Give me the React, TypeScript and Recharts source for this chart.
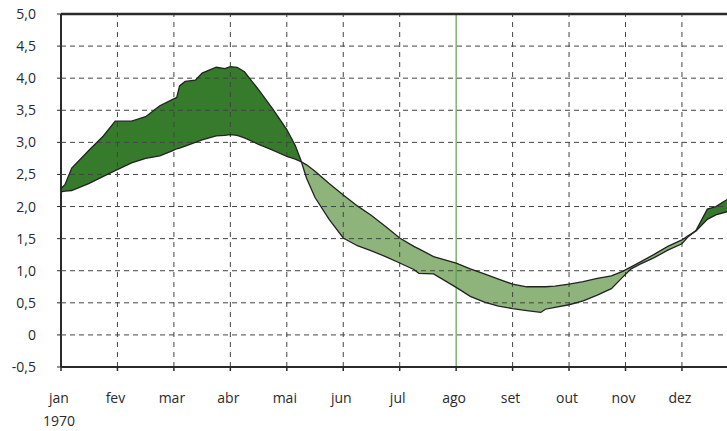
import React from "react";
import {
  ComposedChart,
  Area,
  Line,
  XAxis,
  YAxis,
  ReferenceLine,
} from "recharts";

const monthLabels = ["jan", "fev", "mar", "abr", "mai", "jun", "jul", "ago", "set", "out", "nov", "dez"];
const monthTicks = [0, 1, 2, 3, 4, 5, 6, 7, 8, 9, 10, 11];
const yTicks = [-0.5, 0, 0.5, 1, 1.5, 2, 2.5, 3, 3.5, 4, 4.5, 5];
const yearLabel = "1970";
const markedMonth = 7;

// position in months from 1 jan
const positions = [
  0, 0.07, 0.19, 0.5, 0.75, 0.96, 1.25, 1.5, 1.75, 1.98, 2.05, 2.1, 2.2, 2.38, 2.5,
  2.75, 2.9, 3.0, 3.12, 3.25, 3.5, 3.75, 4.0, 4.15, 4.25, 4.35, 4.5, 4.75, 5.0, 5.25,
  5.5, 5.75, 6.0, 6.25, 6.34, 6.6, 7.0, 7.25, 7.5, 7.75, 8.0, 8.25, 8.5, 8.58, 8.75,
  9.0, 9.25, 9.5, 9.75, 9.95, 10.1, 10.25, 10.5, 10.75, 11.0, 11.1, 11.25, 11.45,
  11.6, 11.8, 12,
];

const smoothVals = [
  2.23, 2.24, 2.25, 2.36, 2.47, 2.56, 2.68, 2.75, 2.79, 2.87, 2.9, 2.91, 2.94, 3.0, 3.04,
  3.1, 3.11, 3.12, 3.11, 3.07, 2.97, 2.88, 2.78, 2.74, 2.7, 2.65, 2.55, 2.36, 2.18, 2.01,
  1.86, 1.69, 1.51, 1.38, 1.34, 1.22, 1.12, 1.03, 0.95, 0.87, 0.79, 0.75, 0.75, 0.75, 0.76,
  0.79, 0.83, 0.88, 0.92, 0.99, 1.06, 1.13, 1.25, 1.38, 1.48, 1.54, 1.62, 1.8,
  1.87, 1.92, 1.97,
];

const jaggedVals = [
  2.28, 2.34, 2.6, 2.88, 3.1, 3.33, 3.33, 3.4, 3.57, 3.67, 3.7, 3.88, 3.95, 3.97, 4.08,
  4.17, 4.15, 4.18, 4.17, 4.1, 3.82, 3.52, 3.2, 2.95, 2.72, 2.44, 2.14, 1.8, 1.51, 1.39,
  1.31, 1.22, 1.12, 1.02, 0.96, 0.95, 0.74, 0.6, 0.51, 0.45, 0.41, 0.38, 0.35, 0.4, 0.43,
  0.47, 0.53, 0.62, 0.72, 0.9, 1.03, 1.1, 1.2, 1.32, 1.42, 1.52, 1.63, 1.96,
  2.0, 2.11, 2.18,
];

const DARK = "#367a2b";
const LIGHT = "#8eb47c";
const INK = "#2a2a2a";
const GRID = "#444";
const FONT = "'Open Sans', sans-serif";

function row(m: number, s: number, j: number) {
  return {
    m,
    smooth: s,
    jagged: j,
    up: [s, Math.max(s, j)],
    down: [Math.min(s, j), s],
  };
}

// table for the chart, with the crossing points added so the two fills meet cleanly
const data: any[] = [];
positions.forEach((m, i) => {
  data.push(row(m, smoothVals[i], jaggedVals[i]));
  if (i < positions.length - 1) {
    const d0 = jaggedVals[i] - smoothVals[i];
    const d1 = jaggedVals[i + 1] - smoothVals[i + 1];
    if (d0 * d1 < 0) {
      const t = d0 / (d0 - d1);
      const xm = m + t * (positions[i + 1] - m);
      const v = smoothVals[i] + t * (smoothVals[i + 1] - smoothVals[i]);
      data.push(row(xm, v, v));
    }
  }
});

const fmtY = (v: number) => (v === 0 ? "0" : v.toFixed(1).replace(".", ","));

const MonthTick = (props: any) => {
  const { x, y, payload } = props;
  return (
    <g>
      <text x={x - 2} y={y} dy={9} textAnchor="middle" fill={INK} fontSize={14} fontFamily={FONT}>
        {monthLabels[payload.value]}
      </text>
      {payload.value === 0 && (
        <text x={x - 2} y={y + 23} dy={9} textAnchor="middle" fill={INK} fontSize={14} fontFamily={FONT}>
          {yearLabel}
        </text>
      )}
    </g>
  );
};

const W = 745;
const H = 431;
const margin = { top: 14, right: 6.6, bottom: 0, left: 0 };

export default function App() {
  const box: React.CSSProperties = { position: "absolute", left: 0, top: 0 };
  return (
    <div
      style={{
        position: "absolute",
        left: 0,
        top: 0,
        width: 727,
        height: 431,
        overflow: "hidden",
        background: "#fff",
      }}
    >
      {/* fills and axes */}
      <div style={box}>
        <ComposedChart width={W} height={H} data={data} margin={margin}>
          <XAxis
            dataKey="m"
            type="number"
            domain={[0, 12]}
            ticks={monthTicks}
            tick={<MonthTick />}
            tickSize={4}
            tickMargin={23}
            height={64}
            axisLine={{ stroke: INK, strokeWidth: 2 }}
            tickLine={{ stroke: INK, strokeWidth: 1.5 }}
          />
          <YAxis
            type="number"
            domain={[-0.5, 5]}
            ticks={yTicks}
            tickFormatter={fmtY}
            width={61}
            tickSize={4}
            tickMargin={21}
            tick={{ fill: INK, fontSize: 14, fontFamily: FONT }}
            axisLine={{ stroke: INK, strokeWidth: 2 }}
            tickLine={{ stroke: INK }}
            interval={0}
          />
          <Area
            type="linear"
            dataKey="up"
            fill={DARK}
            fillOpacity={1}
            stroke="none"
            isAnimationActive={false}
          />
          <Area
            type="linear"
            dataKey="down"
            fill={LIGHT}
            fillOpacity={1}
            stroke="none"
            isAnimationActive={false}
          />
        </ComposedChart>
      </div>

      {/* grid, outlines and frame drawn over the fills */}
      <div style={box}>
        <ComposedChart width={W} height={H} data={data} margin={margin}>
          <XAxis
            dataKey="m"
            type="number"
            domain={[0, 12]}
            ticks={monthTicks}
            tick={false}
            tickLine={false}
            axisLine={false}
            height={64}
          />
          <YAxis
            type="number"
            domain={[-0.5, 5]}
            ticks={yTicks}
            tick={false}
            tickLine={false}
            axisLine={false}
            width={61}
          />
          {yTicks
            .filter((v) => v > -0.5 && v < 5)
            .map((v) => (
              <ReferenceLine key={"h" + v} y={v} stroke={GRID} strokeDasharray="5 4" />
            ))}
          {monthTicks
            .filter((m) => m > 0 && m !== markedMonth)
            .map((m) => (
              <ReferenceLine key={"v" + m} x={m} stroke={GRID} strokeDasharray="5 5" />
            ))}
          <ReferenceLine x={markedMonth} stroke="#5c9e4c" strokeWidth={1.2} />
          <ReferenceLine y={5} stroke={INK} strokeWidth={2.5} />
          <ReferenceLine y={-0.5} stroke={INK} strokeWidth={2} />
          <Line
            type="linear"
            dataKey="smooth"
            stroke="#222"
            strokeWidth={1.3}
            dot={false}
            isAnimationActive={false}
          />
          <Line
            type="linear"
            dataKey="jagged"
            stroke="#222"
            strokeWidth={1.3}
            dot={false}
            isAnimationActive={false}
          />
        </ComposedChart>
      </div>
    </div>
  );
}
